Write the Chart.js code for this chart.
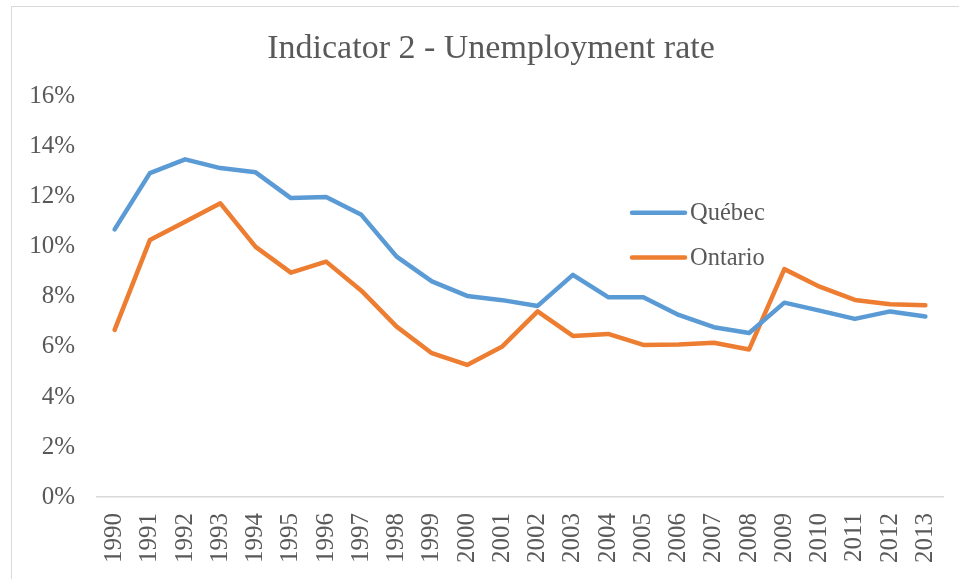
<!DOCTYPE html>
<html>
<head>
<meta charset="utf-8">
<script src="https://cdn.jsdelivr.net/npm/chart.js@4/dist/chart.umd.min.js"></script>
<style>
  html, body { margin: 0; padding: 0; background: #fff; }
  .wrap { position: relative; width: 959px; height: 579px; overflow: hidden; }
  .frame { position: absolute; left: 11px; top: 6px; width: 1000px; height: 700px;
           border-top: 1.5px solid #d9d9d9; border-left: 1.5px solid #d9d9d9; }
  canvas { position: absolute; left: 0; top: 0; }
</style>
</head>
<body>
<div class="wrap">
  <div class="frame"></div>
  <canvas id="chart" width="959" height="579"></canvas>
</div>
<script>
const years = ["1990", "1991", "1992", "1993", "1994", "1995", "1996", "1997", "1998", "1999", "2000", "2001",
  "2002", "2003", "2004", "2005", "2006", "2007", "2008", "2009", "2010", "2011", "2012", "2013"];
const quebec = [10.7, 12.95, 13.5, 13.15, 12.98, 11.95, 11.99, 11.28, 9.61, 8.62, 8.04, 7.87,
  7.64, 8.88, 7.99, 7.99, 7.28, 6.79, 6.56, 7.77, 7.45, 7.12, 7.42, 7.22];
const ontario = [6.68, 10.27, 11.0, 11.74, 10.0, 8.97, 9.41, 8.25, 6.81, 5.75, 5.28, 6.02,
  7.42, 6.44, 6.52, 6.08, 6.1, 6.17, 5.9, 9.11, 8.41, 7.88, 7.71, 7.67];
const yTicks = [0, 2, 4, 6, 8, 10, 12, 14, 16];

const blue = "#5B9BD5";
const orange = "#ED7D31";
const textGray = "#595959";
const serif = "'Liberation Serif', 'DejaVu Serif', serif";

// legend sits inside the plot, to the right of the middle
const insideLegend = {
  id: "insideLegend",
  afterDraw(chart) {
    const { ctx, chartArea } = chart;
    const x = chartArea.left + 535;
    const y = chartArea.top + 116;
    ctx.save();
    ctx.font = "24.5px " + serif;
    ctx.textBaseline = "middle";
    chart.data.datasets.forEach((ds, i) => {
      const rowY = y + i * 44.6;
      ctx.beginPath();
      ctx.moveTo(x, rowY);
      ctx.lineTo(x + 53, rowY);
      ctx.lineWidth = 4.5;
      ctx.lineCap = "round";
      ctx.strokeStyle = ds.borderColor;
      ctx.stroke();
      ctx.fillStyle = textGray;
      ctx.fillText(ds.label, x + 58, rowY + 1);
    });
    ctx.restore();
  }
};

new Chart(document.getElementById("chart"), {
  type: "line",
  plugins: [insideLegend],
  data: {
    labels: years,
    datasets: [
      {
        label: "Québec",
        data: quebec,
        borderColor: blue,
        backgroundColor: blue,
        borderWidth: 4.5,
        borderCapStyle: "round",
        borderJoinStyle: "round",
        pointRadius: 0,
        tension: 0
      },
      {
        label: "Ontario",
        data: ontario,
        borderColor: orange,
        backgroundColor: orange,
        borderWidth: 4.5,
        borderCapStyle: "round",
        borderJoinStyle: "round",
        pointRadius: 0,
        tension: 0
      }
    ]
  },
  options: {
    responsive: false,
    animation: false,
    layout: { padding: { left: 23, right: 0, top: 0, bottom: 0 } },
    plugins: {
      legend: { display: false },
      tooltip: { enabled: false },
      title: {
        display: true,
        text: "Indicator 2 - Unemployment rate",
        color: textGray,
        font: { family: serif, size: 34, weight: "normal", lineHeight: 1.2 },
        padding: { top: 29, bottom: 27 }
      }
    },
    scales: {
      x: {
        offset: true,
        grid: { display: false, drawTicks: false },
        border: { display: true, color: "#d9d9d9", width: 1.5 },
        ticks: {
          color: textGray,
          font: { family: serif, size: 25 },
          minRotation: 90,
          maxRotation: 90,
          padding: 16,
          autoSkip: false
        },
        afterFit(scale) {
          scale.height = 82;
          scale.paddingLeft = 0;
          scale.paddingRight = 16;
        }
      },
      y: {
        min: 0,
        max: 16,
        grid: { display: false, drawTicks: false },
        border: { display: false },
        afterBuildTicks(scale) { scale.ticks = yTicks.map((v) => ({ value: v })); },
        ticks: {
          color: textGray,
          font: { family: serif, size: 25 },
          padding: 22,
          callback: (v) => v + "%"
        },
        afterFit(scale) { scale.width = 74; }
      }
    }
  }
});
</script>
</body>
</html>
